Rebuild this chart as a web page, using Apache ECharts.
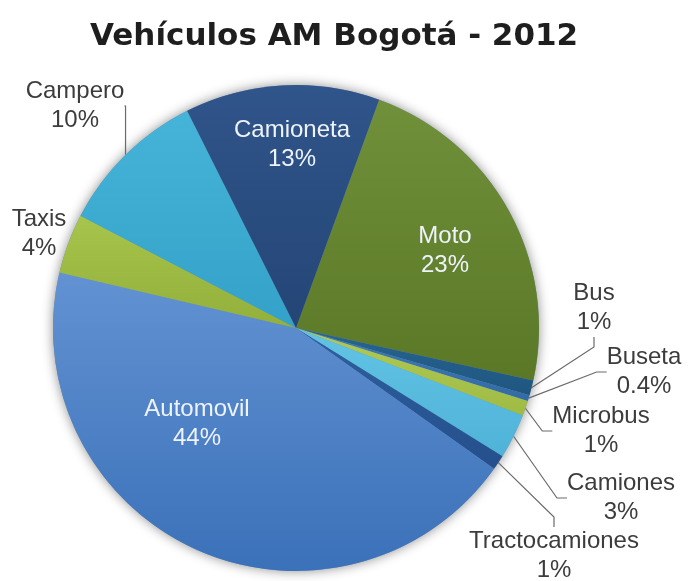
<!DOCTYPE html>
<html>
<head>
<meta charset="utf-8">
<title>Vehículos AM Bogotá - 2012</title>
<script src="https://cdn.jsdelivr.net/npm/echarts@6/dist/echarts.min.js"></script>
<style>
  html, body { margin: 0; padding: 0; background: #ffffff; }
  #chart { width: 688px; height: 581px; }
</style>
</head>
<body>
<div id="chart"></div>
<script>
// Vehicle fleet shares, listed clockwise starting from Moto
const categories = ['Moto', 'Bus', 'Buseta', 'Microbus', 'Camiones', 'Tractocamiones', 'Automovil', 'Taxis', 'Campero', 'Camioneta'];
const shares = [23, 1, 0.4, 1, 3, 1, 44, 4, 10, 13];

// Slice fills: [lighter top, darker bottom]
const sliceColors = [
  ['#71903a', '#5a7826'],
  ['#27658f', '#1f5680'],
  ['#3e7bb8', '#336aa6'],
  ['#b0cb55', '#9fbb44'],
  ['#62c3e4', '#4fb3d8'],
  ['#2d609f', '#254f8c'],
  ['#6292d2', '#3b71b9'],
  ['#a7c44c', '#92b03a'],
  ['#45b4d8', '#34a2c8'],
  ['#30558a', '#244576']
];

// Labels drawn inside their slice (light text, no leader line)
const insideNames = ['Moto', 'Automovil', 'Camioneta'];
// Outside labels that sit right against their slice (no leader line)
const noLineNames = ['Taxis'];

// Label anchor points (block centres) per category
const labelSpots = {
  Moto: [445, 251],
  Bus: [594, 308],
  Buseta: [644, 372],
  Microbus: [601, 431],
  Camiones: [621, 498],
  Tractocamiones: [554, 556],
  Automovil: [197, 424],
  Taxis: [39, 234],
  Campero: [75, 106],
  Camioneta: [292, 145]
};

const pieCenter = [296, 328];
const pieRadius = 243;

const chart = echarts.init(document.getElementById('chart'), null, { renderer: 'canvas' });

const data = categories.map((name, i) => {
  const inside = insideNames.indexOf(name) >= 0;
  const noLine = inside || noLineNames.indexOf(name) >= 0;
  return {
    name: name,
    value: shares[i],
    itemStyle: {
      color: {
        type: 'linear', x: 0, y: 0, x2: 0, y2: 1,
        colorStops: [
          { offset: 0, color: sliceColors[i][0] },
          { offset: 1, color: sliceColors[i][1] }
        ]
      }
    },
    label: inside
      ? { position: 'inside', color: '#eef3fb' }
      : { position: 'outside', color: '#3c3c3c' },
    labelLine: { show: !noLine }
  };
});

const total = shares.reduce((a, b) => a + b, 0);

chart.setOption({
  animation: false,
  backgroundColor: '#ffffff',
  title: {
    text: 'Vehículos AM Bogotá - 2012',
    left: 90,
    top: 21,
    padding: 0,
    textStyle: {
      fontFamily: 'DejaVu Sans',
      fontWeight: 'bold',
      fontSize: 31,
      color: '#1e1e1e'
    }
  },
  series: [
    {
      // soft halo behind the pie
      type: 'pie',
      silent: true,
      z: 1,
      center: pieCenter,
      radius: pieRadius,
      label: { show: false },
      labelLine: { show: false },
      itemStyle: {
        color: '#6f8fb3',
        shadowBlur: 12,
        shadowColor: 'rgba(0, 0, 0, 0.45)'
      },
      data: [{ name: 'total', value: total }]
    },
    {
      type: 'pie',
      z: 2,
      center: pieCenter,
      radius: pieRadius,
      startAngle: 70,
      clockwise: true,
      avoidLabelOverlap: false,
      label: {
        show: true,
        fontFamily: 'Liberation Sans, Arial, sans-serif',
        fontSize: 24,
        lineHeight: 29,
        align: 'center',
        formatter: p => p.name + '\n' + p.value + '%'
      },
      labelLine: {
        show: true,
        length: 8,
        length2: 10,
        lineStyle: { color: '#6a6a6a', width: 1.2 }
      },
      labelLayout: function (params) {
        const name = categories[params.dataIndex];
        const spot = labelSpots[name];
        return {
          x: spot[0],
          y: spot[1],
          align: 'center',
          verticalAlign: 'middle'
        };
      },
      data: data
    }
  ]
});
</script>
</body>
</html>
